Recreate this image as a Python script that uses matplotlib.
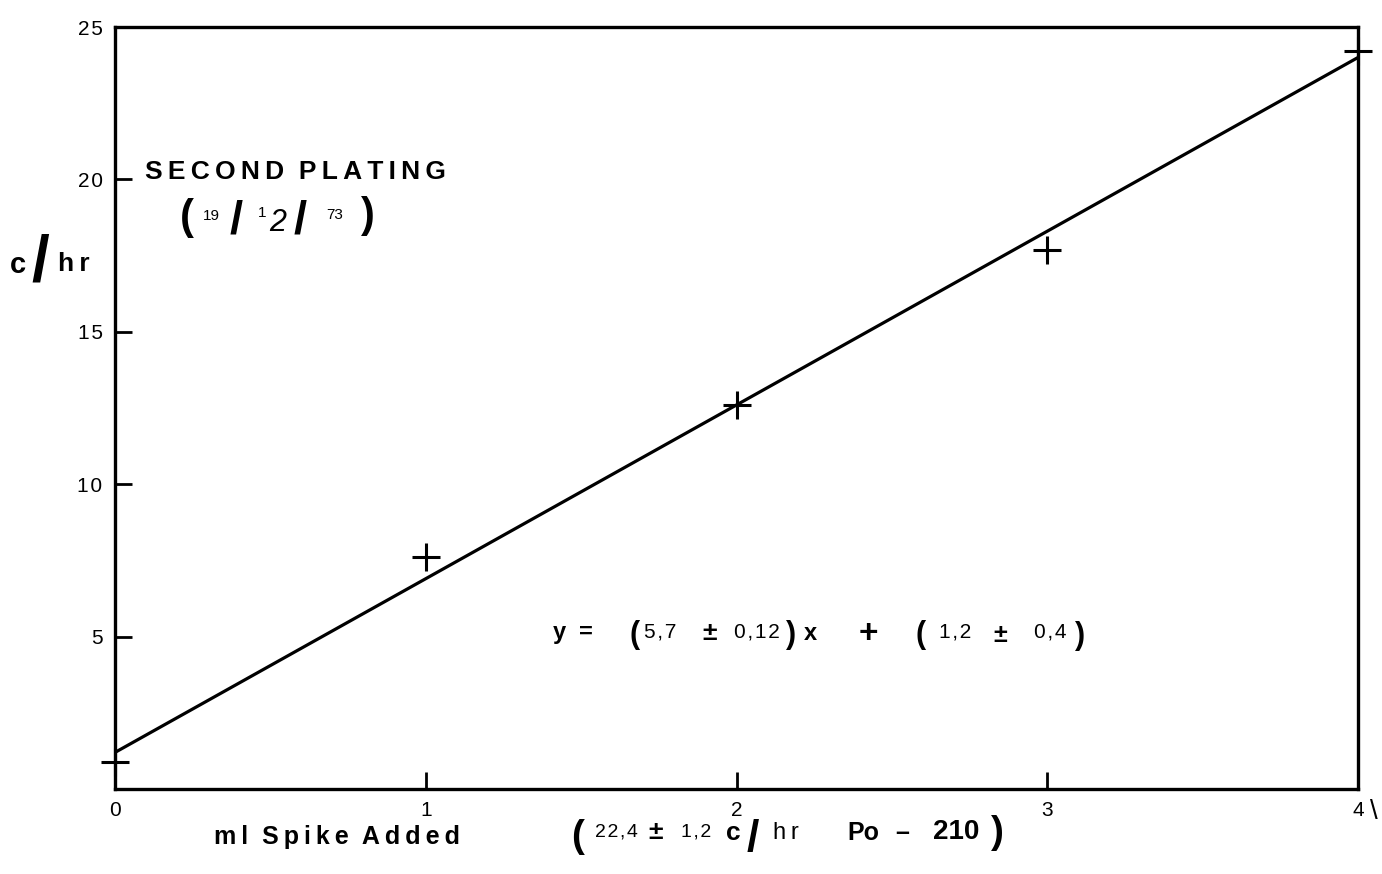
import matplotlib
matplotlib.use("Agg")
import matplotlib.pyplot as plt
import numpy as np

plt.rcParams['font.family'] = ['Liberation Sans', 'DejaVu Sans']

# spike volume added (ml) and count rate measured (c/hr)
spike_ml = [0, 1, 2, 3, 4]
count_rate = [0.9, 7.6, 12.6, 17.7, 24.2]

# straight-line fit written on the graph
fit_slope = 5.7
fit_intercept = 1.2

x_ticks = [0, 1, 2, 3, 4]
y_ticks = [5, 10, 15, 20, 25]

W, H = 1382, 874
fig = plt.figure(figsize=(W / 100, H / 100), dpi=100)
ax = fig.add_axes([115 / W, 1 - 789 / H, (1358 - 115) / W, (789 - 27) / H])


def put(px, py, s, **kw):
    # place text by pixel position on the page
    kw.setdefault('ha', 'center')
    kw.setdefault('va', 'center')
    kw.setdefault('color', 'black')
    fig.text(px / W, 1 - py / H, s, **kw)


def spaced(s, gap='\u2009'):
    return gap.join(s)


# fitted line
fx = np.array([x_ticks[0], x_ticks[-1]])
ax.plot(fx, fit_slope * fx + fit_intercept, color='black', lw=2.3, solid_capstyle='round')

# measured points
ax.plot(spike_ml, count_rate, ls='none', marker='+', ms=20, mew=2.2,
        color='black', clip_on=False, zorder=5)

ax.set_xlim(0, 4)
ax.set_ylim(0, 25)
ax.set_xticks(x_ticks)
ax.set_xticklabels([str(v) for v in x_ticks])
ax.set_yticks(y_ticks)
ax.set_yticklabels([spaced(str(v), '\u200a') for v in y_ticks])
ax.tick_params(direction='in', length=12, width=2, labelsize=15, pad=9)
for sp in ax.spines.values():
    sp.set_linewidth(2.4)

# title block
put(295, 172, spaced('SECOND') + '  ' + spaced('PLATING'), fontsize=19, fontweight='bold')
put(187, 218, '(', fontsize=30, fontweight='bold')
put(211, 216, '19', fontsize=11)
put(236, 221, '/', fontsize=34, fontweight='bold')
put(262, 213, '1', fontsize=11)
put(278, 223, '2', fontsize=22, fontstyle='italic')
put(300, 221, '/', fontsize=34, fontweight='bold')
put(335, 215, '73', fontsize=11)
put(368, 216, ')', fontsize=30, fontweight='bold')

# y axis label
put(18, 265, 'c', fontsize=21, fontweight='bold')
put(40, 264, '/', fontsize=46, fontweight='bold')
put(74, 264, spaced('hr'), fontsize=19, fontweight='bold')

# fit equation
put(559, 633, 'y', fontsize=17, fontweight='bold')
put(586, 632, '=', fontsize=17, fontweight='bold')
put(635, 635, '(', fontsize=22, fontweight='bold')
put(660, 632, spaced('5,7', '\u200a'), fontsize=15)
put(710, 633, '±', fontsize=19, fontweight='bold')
put(757, 632, spaced('0,12', '\u200a'), fontsize=15)
put(791, 635, ')', fontsize=22, fontweight='bold')
put(810, 634, 'x', fontsize=17, fontweight='bold')
put(868, 634, '+', fontsize=24, fontweight='bold')
put(921, 635, '(', fontsize=22, fontweight='bold')
put(955, 632, spaced('1,2', '\u200a'), fontsize=15)
put(1000, 635, '±', fontsize=18, fontweight='bold')
put(1050, 632, spaced('0,4', '\u200a'), fontsize=15)
put(1080, 636, ')', fontsize=22, fontweight='bold')

# x axis label
put(337, 837, spaced('ml') + '  ' + spaced('Spike') + '  ' + spaced('Added'),
    fontsize=18, fontweight='bold')
put(578, 837, '(', fontsize=28, fontweight='bold')
put(616, 832, spaced('22,4', '\u200a'), fontsize=14)
put(656, 832, '±', fontsize=19, fontweight='bold')
put(696, 832, spaced('1,2', '\u200a'), fontsize=14)
put(733, 833, 'c', fontsize=19, fontweight='bold')
put(753, 840, '/', fontsize=32, fontweight='bold')
put(786, 833, spaced('hr'), fontsize=17)
put(863, 833, 'Po', fontsize=18, fontweight='bold')
put(902, 833, '–', fontsize=18, fontweight='bold')
put(956, 832, '210', fontsize=20, fontweight='bold')
put(997, 833, ')', fontsize=28, fontweight='bold')

put(1374, 812, '\\', fontsize=20)

fig.savefig('out.png', dpi=100)
